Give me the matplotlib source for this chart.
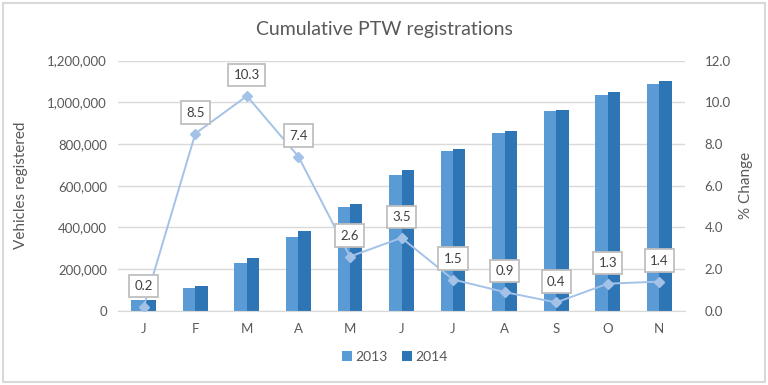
import matplotlib
matplotlib.use("Agg")
import matplotlib.pyplot as plt
import numpy as np
from matplotlib.patches import Rectangle

months = ["J", "F", "M", "A", "M", "J", "J", "A", "S", "O", "N"]
reg_2013 = [51000, 108000, 227000, 355000, 499000, 651000, 766000, 854000, 958000, 1036000, 1086000]
reg_2014 = [52000, 118000, 251000, 383000, 512000, 675000, 777000, 864000, 963000, 1049000, 1101000]
pct_change = [0.2, 8.5, 10.3, 7.4, 2.6, 3.5, 1.5, 0.9, 0.4, 1.3, 1.4]

plt.rcParams['font.family'] = ['Lato', 'DejaVu Sans']
grey = "#595959"

fig = plt.figure(figsize=(7.68, 3.85), dpi=100)
ax = fig.add_axes([118/768, 1-310.8/385, (685-118)/768, (310.8-60.6)/385])
ax2 = ax.twinx()

x = np.arange(len(months))
w = 0.24
ax.bar(x - w/2, reg_2013, w, color="#5B9BD5", label="2013", zorder=2)
ax.bar(x + w/2, reg_2014, w, color="#2E75B6", label="2014", zorder=2)

ax.set_xlim(-0.5, len(months) - 0.5)
ax.set_ylim(0, 1200000)
ax.set_yticks(np.arange(0, 1200001, 200000))
ax.set_yticklabels([f"{int(v):,}" for v in np.arange(0, 1200001, 200000)])
ax.set_xticks(x)
ax.set_xticklabels(months)
ax.grid(axis="y", color="#D9D9D9", linewidth=1, zorder=0)
ax.set_axisbelow(True)
for s in ["top", "right", "left"]:
    ax.spines[s].set_visible(False)
ax.spines["bottom"].set_color("#D9D9D9")
ax.tick_params(axis="both", length=0, colors=grey, labelsize=9.5)
ax.tick_params(axis="x", pad=9)
ax.tick_params(axis="y", pad=8)
ax.set_ylabel("Vehicles registered", color=grey, fontsize=11, labelpad=14)

ax2.plot(x, pct_change, color="#A4C2E8", linewidth=1.4, marker="D", markersize=5.5,
         markerfacecolor="#A4C2E8", markeredgecolor="#A4C2E8", zorder=3)
ax2.set_ylim(0, 12)
ax2.set_yticks(np.arange(0, 12.1, 2))
ax2.set_yticklabels([f"{v:.1f}" for v in np.arange(0, 12.1, 2)])
for s in ["top", "right", "left", "bottom"]:
    ax2.spines[s].set_visible(False)
ax2.tick_params(axis="y", length=0, colors=grey, labelsize=9.5, pad=14)
ax2.set_ylabel("% Change", color=grey, fontsize=11, labelpad=6)

for xi, v in zip(x, pct_change):
    ax2.annotate(f"{v:.1f}", (xi, v), xytext=(0, 15), textcoords="offset points",
                 ha="center", va="center", fontsize=9.5, color="#404040",
                 bbox=dict(boxstyle="square,pad=0.4", fc="white", ec="#BFBFBF", lw=1.3),
                 zorder=5)

fig.text(0.5, 1-30/385, "Cumulative PTW registrations", ha="center", va="center",
         fontsize=14, color=grey)

handles, labels = ax.get_legend_handles_labels()
fig.legend(handles, labels, loc="center", bbox_to_anchor=(395/768, 1-357/385), ncol=2,
           frameon=False, fontsize=10, handlelength=0.7, handleheight=0.7,
           handletextpad=0.3, columnspacing=1.0, labelcolor=grey)

fig.patches.append(Rectangle((0.004, 0.008), 0.992, 0.984, transform=fig.transFigure,
                             fill=False, ec="#D9D9D9", lw=1.5))

fig.savefig("out.png", dpi=100)
